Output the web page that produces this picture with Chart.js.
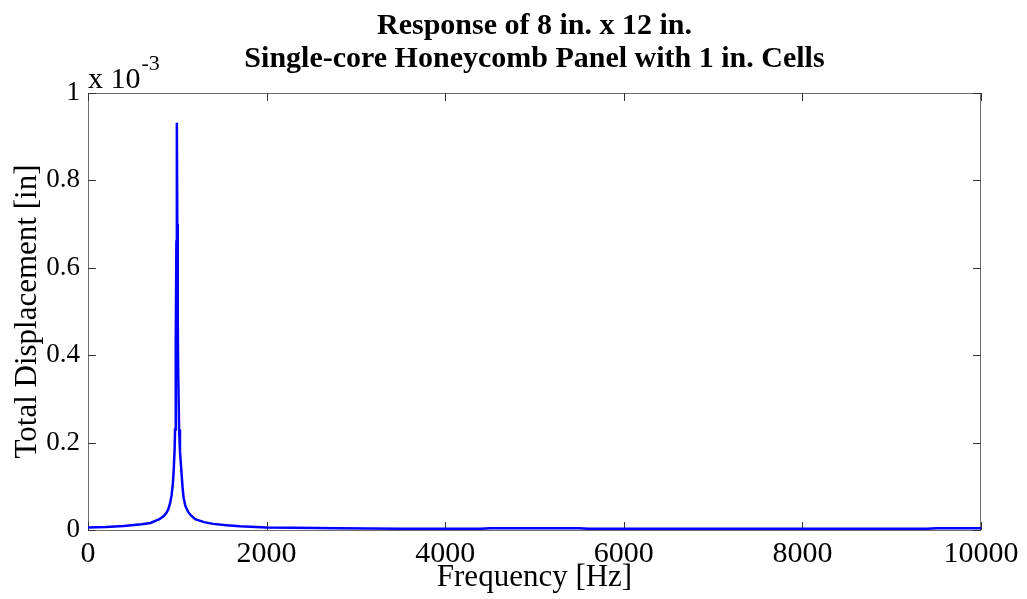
<!DOCTYPE html>
<html>
<head>
<meta charset="utf-8">
<script src="https://cdn.jsdelivr.net/npm/chart.js@4.4.1/dist/chart.umd.min.js"></script>
<style>
  html, body { margin: 0; padding: 0; background: #fff; }
  #wrap { width: 1027px; height: 599px; }
</style>
</head>
<body>
<div id="wrap"><canvas id="myChart" width="1027" height="599"></canvas></div>
<script>
// frequency sweep (Hz) and total displacement (x 10^-3 in)
const freqHz = [0, 200, 400, 600, 700, 800, 850, 880, 900, 920, 935, 950, 960, 970, 975, 980, 985, 990, 995,
  1000, 1005, 1010, 1020, 1030, 1045, 1060, 1070, 1090, 1120, 1150, 1200, 1300, 1400, 1550, 1700,
  2000, 2300, 2800, 3500, 4400, 4500, 5500, 5600, 7500, 9400, 9500, 10000];
const displacement = [0.006, 0.007, 0.009, 0.013, 0.016, 0.025, 0.032, 0.040, 0.048, 0.062, 0.078, 0.105, 0.137, 0.185, 0.23, 0.30, 0.42, 0.66, 0.932,
  0.70, 0.48, 0.36, 0.23, 0.18, 0.137, 0.095, 0.075, 0.055, 0.042, 0.034, 0.025, 0.018, 0.014, 0.011, 0.0085,
  0.006, 0.005, 0.004, 0.003, 0.003, 0.004, 0.004, 0.003, 0.003, 0.003, 0.004, 0.004];

const xTicks = [0, 2000, 4000, 6000, 8000, 10000];
const yTicks = [0, 0.2, 0.4, 0.6, 0.8, 1];

const titleLines = ["Response of 8 in. x 12 in.", "Single-core Honeycomb Panel with 1 in. Cells"];
const xTitle = "Frequency [Hz]";
const yTitle = "Total Displacement [in]";

const serif = "'Liberation Serif', 'Times New Roman', serif";

// box around the axes with inward ticks on all four sides, plus title and exponent
const axesBox = {
  id: "axesBox",
  beforeDatasetsDraw(chart) {
    const { ctx, chartArea: a, scales } = chart;
    ctx.save();
    ctx.strokeStyle = "#6e6e6e";
    ctx.lineWidth = 1;
    ctx.strokeRect(a.left + 0.5, a.top + 0.5, a.right - a.left - 1, a.bottom - a.top);
    ctx.strokeStyle = "#333";
    const len = 8;
    xTicks.forEach(v => {
      const px = Math.round(scales.x.getPixelForValue(v)) + 0.5;
      ctx.beginPath();
      ctx.moveTo(px, a.bottom); ctx.lineTo(px, a.bottom - len);
      ctx.moveTo(px, a.top); ctx.lineTo(px, a.top + len);
      ctx.stroke();
    });
    yTicks.forEach(v => {
      const py = Math.round(scales.y.getPixelForValue(v)) + 0.5;
      ctx.beginPath();
      ctx.moveTo(a.left, py); ctx.lineTo(a.left + len, py);
      ctx.moveTo(a.right, py); ctx.lineTo(a.right - len, py);
      ctx.stroke();
    });
    ctx.restore();
  },
  afterDraw(chart) {
    const { ctx, chartArea: a } = chart;
    ctx.save();
    ctx.fillStyle = "#000";

    // two-line title centred over the plot box
    ctx.font = "bold 30px " + serif;
    ctx.textAlign = "center";
    ctx.textBaseline = "middle";
    const cx = (a.left + a.right) / 2;
    titleLines.forEach((line, i) => ctx.fillText(line, cx, 26 + i * 33));

    // exponent label above the y axis
    ctx.textAlign = "left";
    ctx.textBaseline = "alphabetic";
    ctx.font = "30px " + serif;
    ctx.fillText("x 10", a.left, a.top - 5);
    const w = ctx.measureText("x 10").width;
    ctx.font = "22px " + serif;
    ctx.fillText("-3", a.left + w + 1, a.top - 23);
    ctx.restore();
  }
};

const chart = new Chart(document.getElementById("myChart").getContext("2d"), {
  type: "line",
  data: {
    datasets: [{
      data: freqHz.map((f, i) => ({ x: f, y: displacement[i] })),
      borderColor: "#0000ff",
      borderWidth: 2.5,
      pointRadius: 0,
      tension: 0,
      fill: false
    }]
  },
  options: {
    responsive: false,
    devicePixelRatio: 1,
    animation: false,
    layout: { padding: { top: 93, right: 46, left: 0, bottom: 0 } },
    plugins: {
      legend: { display: false },
      tooltip: { enabled: false },
      title: { display: false }
    },
    scales: {
      x: {
        type: "linear",
        min: 0,
        max: 10000,
        afterBuildTicks: s => { s.ticks = xTicks.map(v => ({ value: v })); },
        afterFit: s => { s.height = 69; },
        grid: { display: false, drawTicks: false },
        border: { display: false },
        ticks: {
          color: "#000",
          font: { family: serif, size: 30 },
          padding: 6,
          maxRotation: 0,
          callback: v => String(v)
        },
        title: {
          display: true,
          text: xTitle,
          color: "#000",
          font: { family: serif, size: 31, lineHeight: 1 },
          padding: { top: 0, bottom: 6 }
        }
      },
      y: {
        min: 0,
        max: 1,
        afterBuildTicks: s => { s.ticks = yTicks.map(v => ({ value: v })); },
        afterFit: s => { s.width = 88; },
        grid: { display: false, drawTicks: false },
        border: { display: false },
        ticks: {
          color: "#000",
          font: { family: serif, size: 27 },
          padding: 8,
          callback: v => (v === 0 || v === 1) ? String(v) : v.toFixed(1)
        },
        title: {
          display: true,
          text: yTitle,
          color: "#000",
          font: { family: serif, size: 31, lineHeight: 1 },
          padding: { top: 12, bottom: 0 }
        }
      }
    }
  },
  plugins: [axesBox]
});
</script>
</body>
</html>
